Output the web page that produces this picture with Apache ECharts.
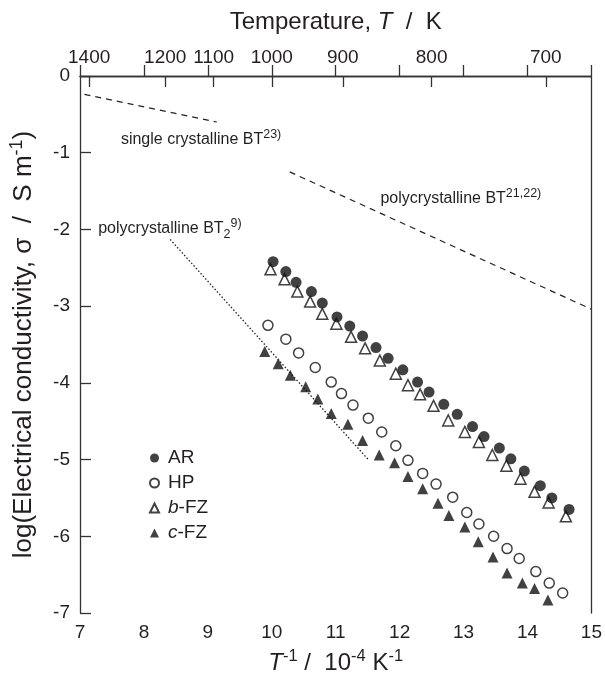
<!DOCTYPE html>
<html>
<head>
<meta charset="utf-8">
<script src="https://cdn.jsdelivr.net/npm/echarts@6/dist/echarts.min.js"></script>
<style>
  html, body { margin: 0; padding: 0; background: #fff; }
  #chart { width: 605px; height: 682px; }
</style>
</head>
<body>
<div id="chart"></div>
<script>
// inverse temperature, 10^-4 K^-1  /  log(sigma / S m^-1)
const arX = [10.02, 10.22, 10.38, 10.62, 10.79, 11.02, 11.22, 11.42, 11.63, 11.82, 12.05, 12.28, 12.46, 12.69, 12.90, 13.14, 13.32, 13.56, 13.74, 13.95, 14.20, 14.38, 14.65];
const arY = [-2.42, -2.55, -2.69, -2.81, -2.96, -3.14, -3.26, -3.39, -3.54, -3.68, -3.83, -3.99, -4.12, -4.28, -4.41, -4.57, -4.70, -4.85, -4.99, -5.15, -5.34, -5.50, -5.65];

const hpX = [9.94, 10.22, 10.42, 10.68, 10.93, 11.09, 11.27, 11.51, 11.72, 11.94, 12.13, 12.36, 12.57, 12.83, 13.05, 13.24, 13.47, 13.68, 13.87, 14.13, 14.34, 14.55];
const hpY = [-3.25, -3.43, -3.61, -3.80, -3.99, -4.14, -4.29, -4.46, -4.64, -4.82, -5.01, -5.18, -5.32, -5.49, -5.69, -5.84, -6.00, -6.16, -6.29, -6.46, -6.61, -6.74];

const bfzX = [9.98, 10.20, 10.40, 10.60, 10.79, 11.01, 11.24, 11.46, 11.69, 11.94, 12.13, 12.32, 12.53, 12.76, 13.02, 13.24, 13.45, 13.67, 13.89, 14.11, 14.33, 14.60];
const bfzY = [-2.52, -2.65, -2.81, -2.94, -3.10, -3.23, -3.40, -3.55, -3.71, -3.88, -4.03, -4.15, -4.30, -4.49, -4.64, -4.77, -4.94, -5.08, -5.25, -5.42, -5.56, -5.74];

const cfzX = [9.89, 10.10, 10.29, 10.53, 10.72, 10.93, 11.19, 11.42, 11.68, 11.92, 12.13, 12.36, 12.60, 12.77, 13.02, 13.23, 13.46, 13.68, 13.92, 14.11, 14.32];
const cfzY = [-3.59, -3.75, -3.90, -4.05, -4.21, -4.40, -4.54, -4.75, -4.94, -5.04, -5.22, -5.38, -5.57, -5.73, -5.88, -6.07, -6.27, -6.48, -6.61, -6.68, -6.83];

// literature lines
const singleBTX = [7.07, 9.14];
const singleBTY = [-0.24, -0.60];
const polyBTX = [10.28, 15.0];
const polyBTY = [-1.25, -3.04];
const polyBT2X = [8.41, 11.52];
const polyBT2Y = [-2.13, -5.01];

// top axis ticks (K)
const tempTicks = [1400, 1200, 1100, 1000, 900, 800, 700];

const FONT = "'Liberation Sans', Arial, Helvetica, sans-serif";
const INK = '#231f20';

const pairs = (xs, ys) => xs.map((x, i) => [x, ys[i]]);

const rich = {
  n: { fontSize: 16, fontFamily: FONT, color: INK, lineHeight: 24 },
  sup: { fontSize: 12.5, fontFamily: FONT, color: INK, lineHeight: 12, verticalAlign: 'top' },
  sup2: { fontSize: 12.5, fontFamily: FONT, color: INK, lineHeight: 6, verticalAlign: 'top' },
  sub: { fontSize: 12.5, fontFamily: FONT, color: INK, lineHeight: 12, verticalAlign: 'bottom' },
  t: { fontSize: 24, fontFamily: FONT, color: INK, lineHeight: 30 },
  ti: { fontSize: 24, fontFamily: FONT, color: INK, lineHeight: 30, fontStyle: 'italic' },
  ts: { fontSize: 16.5, fontFamily: FONT, color: INK, lineHeight: 16, verticalAlign: 'top' },
  y: { fontSize: 26, fontFamily: FONT, color: INK, lineHeight: 32 },
  ys: { fontSize: 18, fontFamily: FONT, color: INK, lineHeight: 18, verticalAlign: 'top' }
};

// annotations: [x, y, text]
const notes = [
  [7.64, -0.834, '{n|single crystalline BT}{sup|23)}'],
  [11.70, -1.60, '{n|polycrystalline BT}{sup|21,22)}'],
  [7.285, -1.995, '{n|polycrystalline BT}{sub|2}{sup2|9)}']
];

const chart = echarts.init(document.getElementById('chart'));

const axisLine = { show: true, lineStyle: { color: '#333', width: 1.3 } };
const axisTick = { show: true, inside: true, length: 11, lineStyle: { color: '#333', width: 1.3 } };
const axisLabel = { fontSize: 19, fontFamily: FONT, color: INK, margin: 10 };

const dot = (name, xs, ys, symbol, size, filled, z) => ({
  name: name,
  type: 'scatter',
  data: pairs(xs, ys),
  symbol: symbol,
  symbolSize: size,
  z: z,
  itemStyle: filled
    ? { color: '#111', borderColor: '#111', borderWidth: 0 }
    : { color: '#fff', borderColor: '#111', borderWidth: 1.5 }
});

const line = (xs, ys, type, width) => ({
  type: 'line',
  data: pairs(xs, ys),
  symbol: 'none',
  silent: true,
  lineStyle: { color: '#222', width: width, type: type },
  z: 1
});

chart.setOption({
  animation: false,
  backgroundColor: '#fff',
  grid: { left: 79, right: 11, top: 76, bottom: 69 },
  xAxis: [
    {
      type: 'value', min: 7, max: 15, interval: 1,
      axisLine: axisLine, axisTick: axisTick, axisLabel: axisLabel,
      splitLine: { show: false },
      name: '{ti|T}{ts|-1}{t| /  10}{ts|-4}{t| K}{ts|-1}',
      nameLocation: 'middle', nameGap: 35,
      nameTextStyle: { rich: rich }
    },
    {
      type: 'value', min: 7, max: 15, position: 'top',
      axisLine: axisLine,
      axisTick: Object.assign({}, axisTick, { customValues: tempTicks.map(t => 10000 / t) }),
      axisLabel: Object.assign({}, axisLabel, {
        margin: 9,
        customValues: tempTicks.map(t => 10000 / t),
        formatter: v => String(Math.round(10000 / v))
      }),
      splitLine: { show: false },
      name: '{t|Temperature, }{ti|T}{t|  /  K}',
      nameLocation: 'middle', nameGap: 39,
      nameTextStyle: { rich: rich }
    }
  ],
  yAxis: [
    {
      type: 'value', min: -7, max: 0, interval: 1,
      axisLine: axisLine, axisTick: axisTick, axisLabel: axisLabel,
      splitLine: { show: false },
      name: '{y|log(Electrical conductivity, σ  /  S m}{ys|-1}{y|)}',
      nameLocation: 'middle', nameGap: 40,
      nameTextStyle: { rich: rich }
    },
    {
      type: 'value', min: -7, max: 0, position: 'right',
      axisLine: axisLine, axisTick: { show: false }, axisLabel: { show: false },
      splitLine: { show: false }
    }
  ],
  legend: {
    orient: 'vertical',
    left: 144, top: 443,
    itemWidth: 9, itemHeight: 9, itemGap: 5,
    data: ['AR', 'HP', 'b-FZ', 'c-FZ'],
    formatter: name => name.startsWith('b-') || name.startsWith('c-')
      ? '{i|' + name.charAt(0) + '}{l|' + name.slice(1) + '}'
      : '{l|' + name + '}',
    textStyle: {
      fontSize: 19, fontFamily: FONT, color: INK, lineHeight: 20, padding: [0, 0, 0, 4],
      rich: {
        l: { fontSize: 19, fontFamily: FONT, color: INK, lineHeight: 20 },
        i: { fontSize: 19, fontFamily: FONT, color: INK, lineHeight: 20, fontStyle: 'italic' }
      }
    }
  },
  series: [
    line(singleBTX, singleBTY, [6, 5], 1.2),
    line(polyBTX, polyBTY, [6, 5], 1.2),
    line(polyBT2X, polyBT2Y, [1.5, 2], 1.3),
    dot('b-FZ', bfzX, bfzY, 'triangle', 11, false, 3),
    dot('HP', hpX, hpY, 'circle', 10, false, 3),
    dot('c-FZ', cfzX, cfzY, 'triangle', 11, true, 3),
    dot('AR', arX, arY, 'circle', 11, true, 4)
  ]
});

chart.setOption({
  graphic: notes.map(n => {
    const p = chart.convertToPixel({ xAxisIndex: 0, yAxisIndex: 0 }, [n[0], n[1]]);
    return {
      type: 'text', x: p[0], y: p[1], silent: true,
      style: { text: n[2], rich: rich, align: 'left', verticalAlign: 'middle', fill: INK }
    };
  })
});
</script>
</body>
</html>
